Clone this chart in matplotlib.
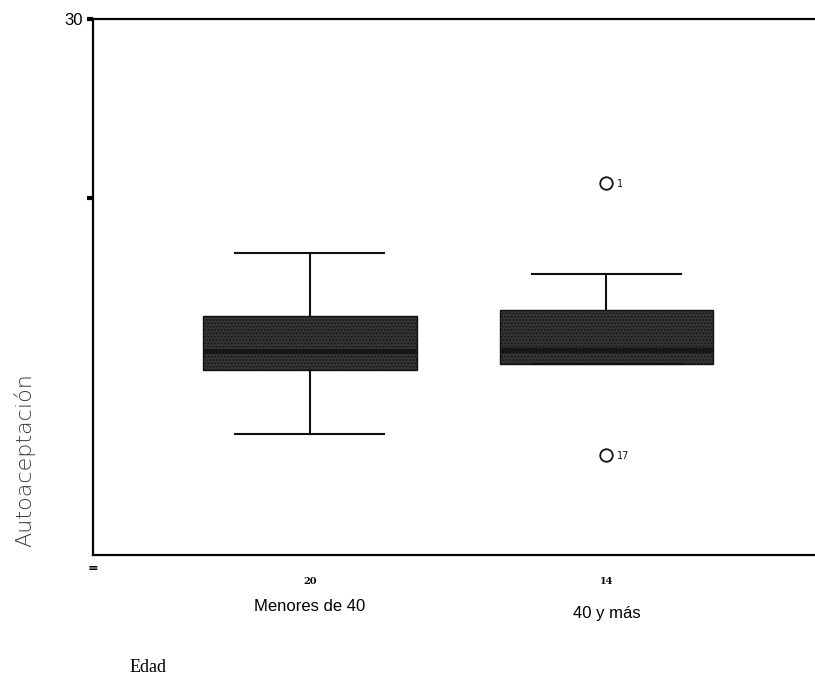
import numpy as np
import matplotlib
matplotlib.use('Agg')
import matplotlib.pyplot as plt

# data
groups = ['Menores de 40', '40 y más']
counts = ['20', '14']
whislo = [6.8, 10.7]
q1 = [10.35, 10.7]
med = [11.4, 11.5]
q3 = [13.4, 13.7]
whishi = [16.9, 15.7]
outlier_vals = [20.8, 5.6]
outlier_ids = ['1', '17']
outlier_group = [2, 2]

stats = []
for i, name in enumerate(groups):
    stats.append({'label': name, 'whislo': whislo[i], 'q1': q1[i], 'med': med[i],
                  'q3': q3[i], 'whishi': whishi[i], 'fliers': []})

plt.rcParams['hatch.color'] = '#8e8e8e'
plt.rcParams['hatch.linewidth'] = 0.6

fig = plt.figure(figsize=(8.15, 6.8), dpi=100)
ax = fig.add_axes([93 / 815, 1 - 555 / 680, 1 - 93 / 815 + 0.01, 536 / 680])

positions = [1, 2]
ax.bxp(stats, positions=positions, widths=0.72, patch_artist=True, showfliers=False,
       boxprops={'facecolor': '#333333', 'edgecolor': '#111111', 'linewidth': 1.0,
                 'hatch': '.....'},
       medianprops={'color': '#161616', 'linewidth': 3.5},
       whiskerprops={'color': '#111111', 'linewidth': 1.5},
       capprops={'color': '#111111', 'linewidth': 1.5},
       capwidths=0.5)

# outliers drawn as open circle + case number
for v, lab, g in zip(outlier_vals, outlier_ids, outlier_group):
    ax.plot(g, v, marker='o', mfc='none', mec='#111111', ms=9, mew=1.3)
    ax.text(g + 0.035, v - 0.05, lab, fontsize=7, va='center', ha='left', color='#111111')

ax.set_xlim(0.27, 2.73)
ax.set_ylim(0, 30)
ax.set_yticks([20, 30])
ax.set_yticklabels(['', '30'], fontsize=12, family='Liberation Sans')
ax.tick_params(axis='y', length=4, width=3, pad=3)
ax.set_xticks([])
for s in ['left', 'top', 'bottom']:
    ax.spines[s].set_linewidth(1.6)
ax.spines['right'].set_visible(False)

# case counts and group labels under the axis
for x, n in zip(positions, counts):
    ax.text(x, -1.5, n, ha='center', va='center', fontsize=7, fontweight='bold',
            family='DejaVu Serif')
ax.text(positions[0], -2.9, groups[0], ha='center', va='center', fontsize=12,
        family='Liberation Sans')
ax.text(positions[1], -3.3, groups[1], ha='center', va='center', fontsize=12,
        family='Liberation Sans')
ax.text(0.27, -0.75, '=', ha='center', va='center', fontsize=9, fontweight='bold')

fig.text(25 / 815, 1 - 460 / 680, 'Autoaceptación', rotation=90, ha='center', va='center',
         fontsize=16, color='#3a3a3a', family='DejaVu Sans', fontweight='light')
fig.text(130 / 815, 4 / 680, 'Edad', ha='left', va='bottom', fontsize=13,
         family='Liberation Serif')

fig.savefig('out.png', dpi=100)
